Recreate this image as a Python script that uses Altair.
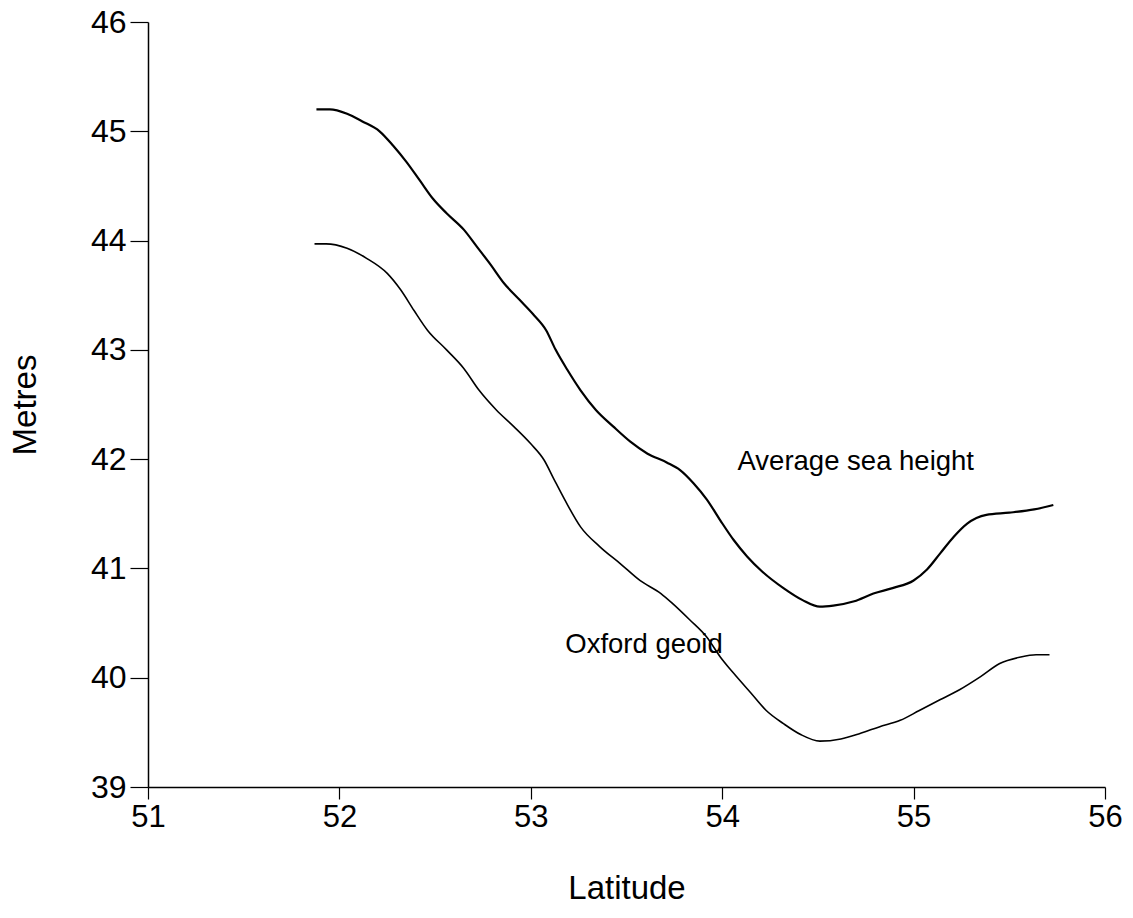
import altair as alt
import pandas as pd

# Average sea height (upper curve)
lat_sea = [51.88, 51.95, 52.04, 52.12, 52.21, 52.28, 52.35, 52.42, 52.49, 52.56,
           52.65, 52.72, 52.79, 52.86, 52.94, 53.01, 53.08, 53.13, 53.19, 53.26,
           53.34, 53.43, 53.52, 53.61, 53.71, 53.78, 53.85, 53.92, 53.99, 54.06,
           54.13, 54.21, 54.32, 54.42, 54.51, 54.58, 54.69, 54.79, 54.89, 55.00,
           55.07, 55.14, 55.21, 55.28, 55.38, 55.50, 55.63, 55.73]
val_sea = [45.20, 45.20, 45.16, 45.09, 45.00, 44.87, 44.72, 44.55, 44.38, 44.25,
           44.10, 43.94, 43.78, 43.61, 43.46, 43.33, 43.18, 43.00, 42.82, 42.63,
           42.45, 42.30, 42.16, 42.05, 41.97, 41.90, 41.78, 41.63, 41.44, 41.26,
           41.11, 40.97, 40.82, 40.71, 40.65, 40.66, 40.70, 40.77, 40.82, 40.89,
           40.99, 41.14, 41.29, 41.41, 41.49, 41.51, 41.54, 41.58]

# Oxford geoid (lower curve)
lat_geoid = [51.87, 51.93, 52.04, 52.14, 52.25, 52.32, 52.39, 52.46, 52.56, 52.65,
             52.73, 52.82, 52.91, 53.00, 53.07, 53.12, 53.18, 53.26, 53.36, 53.47,
             53.57, 53.68, 53.74, 53.83, 53.92, 53.99, 54.06, 54.15, 54.23, 54.32,
             54.41, 54.51, 54.62, 54.72, 54.82, 54.93, 55.03, 55.14, 55.24, 55.35,
             55.45, 55.56, 55.64, 55.71]
val_geoid = [43.97, 43.97, 43.93, 43.84, 43.70, 43.55, 43.36, 43.18, 43.00, 42.83,
             42.63, 42.45, 42.30, 42.14, 41.99, 41.82, 41.62, 41.38, 41.20, 41.04,
             40.89, 40.77, 40.68, 40.53, 40.37, 40.19, 40.04, 39.86, 39.70, 39.58,
             39.48, 39.42, 39.44, 39.49, 39.55, 39.61, 39.70, 39.80, 39.89, 40.01,
             40.13, 40.19, 40.21, 40.21]

label_text = ["Average sea height", "Oxford geoid"]
label_lat = [54.08, 53.18]
label_val = [41.97, 40.30]

x_ticks = [51, 52, 53, 54, 55, 56]
y_ticks = [39, 40, 41, 42, 43, 44, 45, 46]

sea = pd.DataFrame({"lat": lat_sea, "val": val_sea})
geoid = pd.DataFrame({"lat": lat_geoid, "val": val_geoid})
labels = pd.DataFrame({"lat": label_lat, "val": label_val, "text": label_text})

xscale = alt.Scale(domain=[51, 56], nice=False, zero=False)
yscale = alt.Scale(domain=[39, 46], nice=False, zero=False)

xaxis = alt.Axis(title="Latitude", values=x_ticks, format="d")
yaxis = alt.Axis(title="Metres", values=y_ticks, format="d")


def enc_x():
    return alt.X("lat:Q", scale=xscale, axis=xaxis)


def enc_y():
    return alt.Y("val:Q", scale=yscale, axis=yaxis)


line_sea = alt.Chart(sea).mark_line(color="black", strokeWidth=2.2, interpolate="monotone").encode(
    x=enc_x(), y=enc_y())
line_geoid = alt.Chart(geoid).mark_line(color="black", strokeWidth=1.6, interpolate="monotone").encode(
    x=enc_x(), y=enc_y())
text = alt.Chart(labels).mark_text(align="left", baseline="middle", font="Liberation Sans",
                                   fontSize=27.5, color="black").encode(
    x=enc_x(), y=enc_y(), text="text:N")

chart = alt.layer(line_sea, line_geoid, text).properties(
    width=957, height=765,
    autosize=alt.AutoSizeParams(type="none"),
    padding={"left": 148, "top": 22, "right": 28, "bottom": 131},
    background="white",
).configure_view(stroke=None).configure_axis(
    grid=False, domainColor="black", tickColor="black", domainWidth=1.5, tickWidth=1.2,
    labelColor="black", titleColor="black", labelFont="Liberation Sans",
    titleFont="Liberation Sans", titleFontWeight="normal", labelFlush=False,
).configure_axisX(
    tickSize=12, labelPadding=3, labelFontSize=31, titleFontSize=33, titlePadding=40,
).configure_axisY(
    tickSize=18, labelPadding=4, labelFontSize=32, titleFontSize=33, titlePadding=48,
)

chart.save("out.html", embed_options={"renderer": "svg", "actions": False})
